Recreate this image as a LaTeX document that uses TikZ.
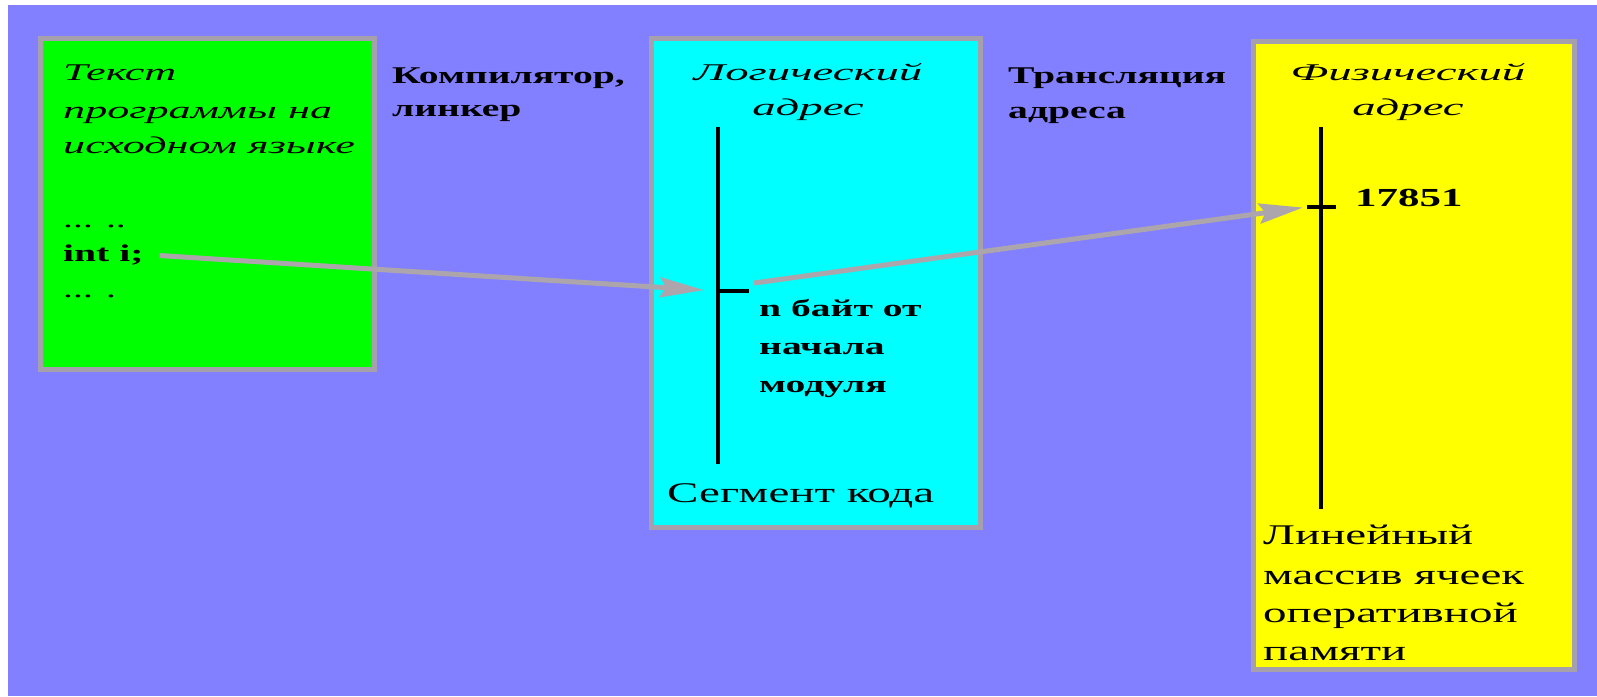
\documentclass[tikz,border=0pt]{standalone}
\usepackage{fontspec}
\setmainfont{Liberation Serif}[FakeStretch=1.65]
\newfontfamily\wideit{Liberation Serif}[FakeStretch=1.95]
\newfontfamily\midit{Liberation Serif}[FakeStretch=1.84]
\usetikzlibrary{arrows.meta}
\definecolor{bgblue}{RGB}{130,128,255}
\definecolor{boxgray}{RGB}{165,160,172}
\definecolor{arrgray}{RGB}{172,166,172}
\definecolor{srcgreen}{RGB}{0,255,0}
\definecolor{logcyan}{RGB}{0,255,255}
\definecolor{physyellow}{RGB}{255,255,0}
\tikzset{
  box/.style={draw=boxgray, line width=5pt, inner sep=0pt},
  txt/.style={inner sep=0pt, anchor=base west, font=\fontsize{24}{29}\selectfont},
  txtb/.style={txt, font=\fontsize{24}{29}\selectfont\bfseries},
  txtiw/.style={txt, font=\fontsize{24}{29}\selectfont\midit\itshape},
  txti/.style={inner sep=0pt, anchor=base, font=\fontsize{24}{29}\selectfont\wideit\itshape},
  txtl/.style={txt, font=\fontsize{28.5}{33}\selectfont},
  axis/.style={line width=4pt, black},
  arr/.style={draw=arrgray, line width=5pt, -{Stealth[length=44pt, width=20pt, inset=6pt]}},
}
\begin{document}
\begin{tikzpicture}[x=1pt,y=-1pt]
\useasboundingbox (0,0) rectangle (1597,696);
\fill[white] (0,0) rectangle (1597,696);
\fill[bgblue] (8,5) rectangle (1597,696);

% boxes
\node[box, fill=srcgreen, minimum width=334pt, minimum height=331pt] (src) at (207.5,204) {};
\node[box, fill=logcyan, minimum width=329pt, minimum height=489pt] (log) at (816,283) {};
\node[box, fill=physyellow, minimum width=321pt, minimum height=628pt] (phys) at (1414,355.5) {};

% source text
\node[txtiw] (t1) at (63,80) {Текст};
\node[txtiw] (t2) at (63,118) {программы на};
\node[txtiw] (t3) at (63,153) {исходном языке};
\node[txt] (d1) at (63,227) {... ..};
\node[txtb] (inti) at (63,261) {int i;};
\node[txt] (d2) at (63,297) {... .};

% compiler label
\node[txtb] (c1) at (392,83) {Компилятор,};
\node[txtb] (c2) at (392,116) {линкер};

% logical address
\node[txti] (l1) at (808,80) {Логический};
\node[txti] (l2) at (808,115) {адрес};
\coordinate (ltop) at (718,127);
\coordinate (lbot) at (718,464);
\coordinate (ltick) at (718,291);
\coordinate (ltickend) at (749,291);
\draw[axis] (ltop) -- (lbot);
\draw[axis] (ltick) -- (ltickend);
\node[txtb] (n1) at (759,316) {n байт от};
\node[txtb] (n2) at (759,354) {начала};
\node[txtb] (n3) at (759,392) {модуля};
\node[txtl] (seg) at (667,502) {Сегмент кода};

% translation label
\node[txtb] (tr1) at (1008,83) {Трансляция};
\node[txtb] (tr2) at (1008,118) {адреса};

% physical address
\node[txti] (f1) at (1408,80) {Физический};
\node[txti] (f2) at (1408,115) {адрес};
\coordinate (ptop) at (1321,127);
\coordinate (pbot) at (1321,509);
\coordinate (ptickL) at (1307,207);
\coordinate (ptickR) at (1336,207);
\draw[axis] (ptop) -- (pbot);
\draw[axis] (ptickL) -- (ptickR);
\node[txtb, font=\fontsize{26}{31}\selectfont\bfseries] (addr) at (1355,206) {17851};
\node[txtl] (m1) at (1263,544) {Линейный};
\node[txtl] (m2) at (1263,584) {массив ячеек};
\node[txtl] (m3) at (1263,622) {оперативной};
\node[txtl] (m4) at (1263,660) {памяти};

% arrows
\coordinate (a2s) at (754,283);
\draw[arr, shorten <=16pt, shorten >=14pt] (inti.east) -- (ltick);
\draw[arr, shorten >=4pt] (a2s) -- (ptickL);
\end{tikzpicture}
\end{document}
